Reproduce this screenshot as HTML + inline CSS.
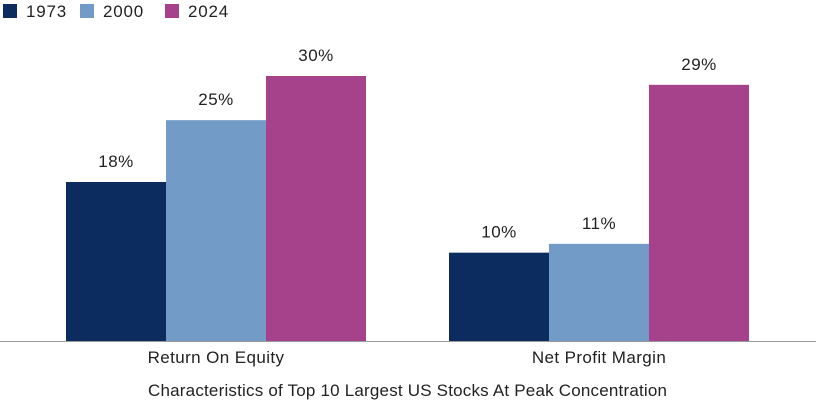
<!DOCTYPE html>
<html><head><meta charset="utf-8"><style>
body{margin:0;background:#fff;font-family:"Liberation Sans",sans-serif;}
</style></head><body>
<svg id="chart" width="816" height="400" style="display:block"></svg>
<script>
const categories=["Return On Equity","Net Profit Margin"];
const seriesNames=["1973","2000","2024"];
const s1973=[18,10];
const s2000=[25,11];
const s2024=[30,29];
const valueLabels=[["18%","10%"],["25%","11%"],["30%","29%"]];
const colors=["#0c2c5f","#739bc8","#a5428b"];
const svg=document.getElementById('chart');
const NS="http://www.w3.org/2000/svg";
function mk(t,a,txt){const e=document.createElementNS(NS,t);for(const k in a)e.setAttribute(k,a[k]);if(txt!==undefined)e.textContent=txt;svg.appendChild(e);return e;}
const base=341, scale=265/30;
const y=v=>base-v*scale;
const groupX=[66,449], barW=100;
const series=[s1973,s2000,s2024];
series.forEach((s,si)=>{s.forEach((v,ci)=>{
 const x=groupX[ci]+si*barW;
 const r=mk('rect',{x:x,y:y(v),width:barW,height:base-y(v),fill:colors[si]});
 
 
 const t=mk('text',{x:x+barW/2,y:y(v)-15,'text-anchor':'middle','font-size':17,'letter-spacing':0.5,fill:'#222'},valueLabels[si][ci]);
 
 
});});
const ax=mk('line',{x1:0,x2:816,y1:base+0.5,y2:base+0.5,stroke:'#999','stroke-width':1});


categories.forEach((c,ci)=>{
 const t=mk('text',{x:groupX[ci]+150,y:363,'text-anchor':'middle','font-size':17,'letter-spacing':0.4,fill:'#222'},c);
 
 
});
const ti=mk('text',{x:148,y:396,'font-size':17,textLength:519,lengthAdjust:'spacing',fill:'#222'},"Characteristics of Top 10 Largest US Stocks At Peak Concentration");


const legX=[3,80,165];
seriesNames.forEach((n,i)=>{
 const r=mk('rect',{x:legX[i],y:4,width:14,height:14,fill:colors[i]});
 
 
 const t=mk('text',{x:legX[i]+23,y:17,'font-size':17,'letter-spacing':0.8,fill:'#222'},n);
 
 
});
</script>
</body></html>
